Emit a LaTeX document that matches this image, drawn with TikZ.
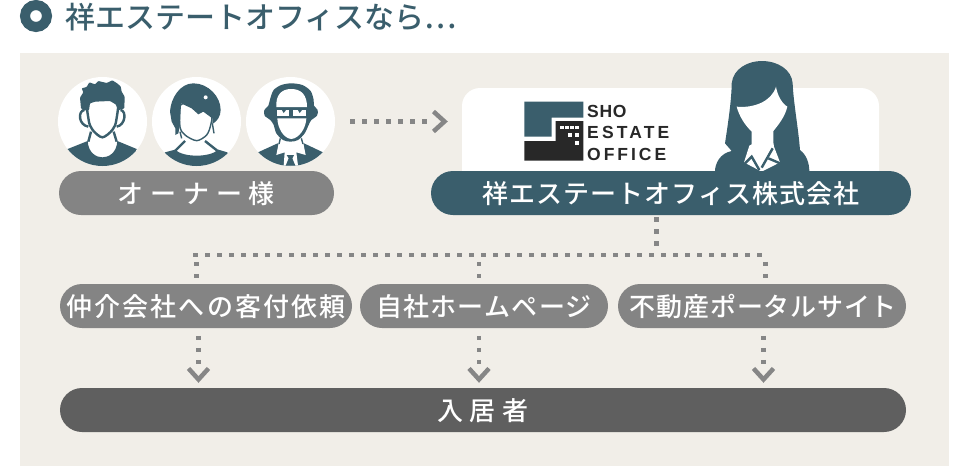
\documentclass[tikz,border=0pt]{standalone}
\usepackage{fontspec}
\usetikzlibrary{arrows.meta, shapes.misc}
\newfontfamily\jpfont{Noto Sans CJK JP Medium}
\newfontfamily\titlefont{Noto Sans CJK JP Medium}
\newfontfamily\logofont{Liberation Sans Bold}
\definecolor{shoteal}{HTML}{3A5E6C}
\definecolor{shopaper}{HTML}{F1EEE8}
\definecolor{pillgrey}{HTML}{848484}
\definecolor{pilldark}{HTML}{5F5F5F}
\definecolor{dotgrey}{HTML}{868686}
\definecolor{logoblack}{HTML}{282828}
\tikzset{
    pill/.style = {shape = rounded rectangle, minimum height = 44pt, inner sep = 0pt, text = white,
        text height = 23pt, text depth = 3pt, font = \jpfont\fontsize{26}{30}\selectfont},
    facecircle/.style = {shape = circle, fill = white, minimum size = 89pt, inner sep = 0pt},
    logotext/.style = {anchor = base west, inner sep = 0pt, text = logoblack, font = \logofont\fontsize{17.5}{20}\selectfont},
    dotline/.style = {draw = dotgrey, line width = 4.5pt, dash pattern = on 4.5pt off 7.5pt},
    dotdrop/.style = {dotline, dash pattern = on 4.5pt off 7.5pt on 4.5pt off 7.5pt on 4.5pt off 90pt,
        -{Straight Barb[length = 11pt, width = 20pt, line width = 4.5pt]}},
    dotlong/.style = {dotline, dash pattern = on 4.5pt off 7.5pt on 4.5pt off 7.5pt on 4.5pt off 7.5pt on 4.5pt off 7.5pt on 4.5pt off 7.5pt on 4.5pt off 7.5pt on 4.5pt off 90pt,
        -{Straight Barb[length = 11pt, width = 20pt, line width = 4.5pt]}},
    outline/.style = {draw = shoteal, line width = 2.4pt},
    thinline/.style = {draw = shoteal, line width = 1.4pt}
}
\begin{document}
\begin{tikzpicture}[x = 1pt, y = -1pt]
    \useasboundingbox (0,0) rectangle (958,466);
    \fill [shopaper] (20,53) rectangle (949,466);

    \node [shape = circle, draw = shoteal, fill = white, line width = 10pt, minimum size = 22pt, inner sep = 0pt] (bullet) at (36,16) {};
    \node [anchor = west, inner sep = 0pt, text = shoteal, text height = 27pt, text depth = 3pt, font = \titlefont\fontsize{30}{34}\selectfont] (title) at (65,16) {祥エステートオフィスなら⋯};

    \node [facecircle] (owner1) at (102.5,121.5) {};
    \node [facecircle] (owner2) at (196.5,121.5) {};
    \node [facecircle] (owner3) at (290.5,121.5) {};

    \begin{scope}
        \clip (102.5,121.5) circle (44.5);
        \begin{scope}[shift = {(55,75)}, scale = 1/3]
            \fill [shoteal] (38,222) -- (98,198) .. controls (100,235) and (125,247) .. (142,247) .. controls (160,247) and (185,235) .. (187,198) -- (245,222) -- (250,290) -- (30,290) -- cycle;
            \draw [outline] (108,170) -- (100,200);
            \draw [outline] (176,170) -- (185,200);
            \draw [outline] (88,105) .. controls (68,108) and (70,150) .. (100,155);
            \draw [outline] (197,105) .. controls (215,108) and (212,150) .. (185,155);
            \filldraw [outline, fill = white] plot [smooth cycle] coordinates {(101,70) (101,135) (113,165) (142,187) (172,165) (184,135) (184,70)};
            \fill [shoteal, rounded corners = 0.7pt] (78,100) -- (75,68) -- (85,52) -- (80,40) -- (95,36) -- (103,22) -- (120,28) -- (130,18) -- (155,24) -- (172,16) -- (185,24) -- (197,34) -- (200,50) -- (209,65) -- (208,100) -- (190,106) -- (182,88) -- (165,78) -- (120,80) -- (105,85) -- (102,106) -- (85,106) -- cycle;
        \end{scope}
    \end{scope}

    \begin{scope}
        \clip (196.5,121.5) circle (44.5);
        \begin{scope}[shift = {(150,75)}, scale = 1/3]
            \fill [shoteal] (45,232) -- (75,224) .. controls (100,248) and (180,248) .. (205,224) -- (232,232) -- (250,290) -- (30,290) -- cycle;
            \draw [outline] (105,198) -- (75,228);
            \draw [outline] (165,198) -- (203,228);
            \filldraw [thinline, fill = white] plot [smooth cycle] coordinates {(92,90) (90,155) (105,180) (140,197) (170,180) (182,150) (182,120) (130,90)};
            \fill [shoteal] (60,110) .. controls (62,70) and (90,25) .. (130,25) .. controls (175,25) and (212,65) .. (212,105) .. controls (212,125) and (200,140) .. (187,147) -- (187,130) -- (160,110) -- (145,118) -- (125,100) -- (93,85) -- (90,150) -- (85,175) -- (76,180) -- (76,160) -- (65,140) -- cycle;
            \draw [thinline] (187,145) -- (192,175);
            \draw [thinline] (90,170) -- (95,190);
            \fill [white] (167,67) circle (6);
        \end{scope}
    \end{scope}

    \begin{scope}
        \clip (290.5,121.5) circle (44.5);
        \begin{scope}[shift = {(243,75)}, scale = 1/3]
            \fill [shoteal] (45,232) -- (104,205) -- (142,235) -- (183,205) -- (240,232) -- (260,290) -- (30,290) -- cycle;
            \fill [white] (108,200) -- (142,232) -- (180,200) -- (188,240) -- (160,232) -- (165,272) -- (122,272) -- (125,232) -- (100,240) -- cycle;
            \fill [shoteal] (131,240) -- (153,240) -- (148,250) -- (157,272) -- (128,272) -- (137,250) -- cycle;
            \draw [thinline] (112,190) -- (108,207);
            \draw [thinline] (175,190) -- (180,207);
            \fill [shoteal] plot [smooth cycle] coordinates {(82,70) (92,45) (115,30) (145,25) (178,30) (203,48) (212,75) (213,92) (224,105) (222,122) (205,135) (197,150) (185,175) (165,195) (142,200) (120,195) (100,175) (92,150) (82,135) (65,122) (64,105) (76,92)};
            \fill [white] (100,96) .. controls (98,60) and (115,42) .. (145,42) .. controls (175,42) and (192,60) .. (192,96) -- cycle;
            \fill [white] (103,130) -- (190,130) .. controls (189,160) and (168,190) .. (145,192) .. controls (122,190) and (104,160) .. (103,130) -- cycle;
            \fill [white] (103,104) rectangle (137,122);
            \fill [white] (150,104) rectangle (188,122);
            \fill [shoteal] (116,104) -- (130,104) -- (122,114) -- cycle;
            \fill [shoteal] (164,104) -- (178,104) -- (170,114) -- cycle;
        \end{scope}
    \end{scope}

    \node [pill, fill = pillgrey, minimum width = 275pt] (ownerpill) at (196.5,193) {\addfontfeature{LetterSpace=26}オーナー様\hspace{-7pt}};

    \node [shape = rectangle, fill = white, rounded corners = 18pt, minimum width = 417pt, minimum height = 102pt] (card) at (670.5,139) {};

    \begin{scope}[shift = {(515,95)}, scale = 1/3]
        \fill [shoteal] (28,20) -- (205,20) -- (205,68) -- (110,68) -- (110,125) -- (28,125) -- cycle;
        \fill [logoblack] (28,138) -- (122,138) -- (122,78) -- (205,78) -- (205,197) -- (28,197) -- cycle;
        \foreach \winx/\winy in {136/92, 150/92, 165/92, 180/92, 160/115, 180/115, 180/138}
            \fill [white] (\winx,\winy) rectangle +(11,11);
    \end{scope}
    \node [logotext] (logosho) at (587,117) {\addfontfeature{LetterSpace=4}SHO};
    \node [logotext] (logoestate) at (587,138.5) {\addfontfeature{LetterSpace=18}ESTATE};
    \node [logotext] (logooffice) at (587,160) {\addfontfeature{LetterSpace=17}OFFICE};

    \begin{scope}[shift = {(700,55)}, scale = 1/3]
        \fill [shoteal] (75,265) .. controls (85,200) and (95,130) .. (95,85) .. controls (100,40) and (145,18) .. (185,18) .. controls (235,18) and (275,45) .. (278,85) .. controls (280,140) and (295,220) .. (300,285) .. controls (320,300) and (328,325) .. (328,350) -- (45,350) .. controls (45,325) and (60,295) .. (95,288) -- cycle;
        \fill [white] (110,155) .. controls (160,160) and (215,140) .. (228,95) .. controls (232,120) and (245,145) .. (262,155) .. controls (255,185) and (235,210) .. (220,228) -- (220,262) -- (222,275) -- (240,322) -- (185,350) -- (132,322) -- (148,272) -- (155,268) -- (155,230) .. controls (135,210) and (118,185) .. (110,155) -- cycle;
        \draw [outline] (135,325) -- (155,305) -- (178,345);
        \draw [outline] (218,280) -- (185,338);
        \draw [outline] (205,310) -- (240,325);
    \end{scope}

    \node [pill, fill = shoteal, minimum width = 480pt] (company) at (671,193) {\addfontfeature{LetterSpace=4}祥エステートオフィス株式会社};

    \node [pill, fill = pillgrey, minimum width = 292pt] (broker) at (206,306) {\addfontfeature{LetterSpace=8}仲介会社への客付依頼};
    \node [pill, fill = pillgrey, minimum width = 248pt] (homepage) at (484,306) {\addfontfeature{LetterSpace=5}自社ホームページ\hspace{-2pt}};
    \node [pill, fill = pillgrey, minimum width = 288pt] (portal) at (762,306) {\hspace{3pt}\addfontfeature{LetterSpace=3}不動産ポータルサイト};
    \node [pill, fill = pilldark, minimum width = 846pt] (tenant) at (483,410) {\addfontfeature{LetterSpace=24}入居者\hspace{-3pt}};

    \coordinate (joint) at (656.5,255);
    \coordinate (busleft) at (193,255);
    \coordinate (busright) at (769,255);
    \coordinate (dropleft) at (196.5,255);
    \coordinate (dropmid) at (479,255);
    \coordinate (dropright) at (765.5,255);
    \coordinate (arrowleft) at (198.5,328);
    \coordinate (arrowmid) at (479,328);
    \coordinate (arrowright) at (763.5,328);

    \draw [dotlong, shorten <= 15pt, shorten >= 14pt] (owner3.east) -- (owner3 -| card.west);
    \draw [dotline, shorten <= 2pt, shorten >= 8pt] (company.south -| joint) -- (joint);
    \draw [dotline] (busleft) -- (busright);
    \draw [dotline, shorten <= 6.75pt] (dropleft) -- (dropleft |- broker.north);
    \draw [dotline, shorten <= 6.75pt] (dropmid) -- (dropmid |- homepage.north);
    \draw [dotline, shorten <= 6.75pt] (dropright) -- (dropright |- portal.north);
    \draw [dotdrop, shorten <= 7.75pt, shorten >= 5pt] (arrowleft) -- (arrowleft |- tenant.north);
    \draw [dotdrop, shorten <= 7.75pt, shorten >= 5pt] (arrowmid) -- (arrowmid |- tenant.north);
    \draw [dotdrop, shorten <= 7.75pt, shorten >= 5pt] (arrowright) -- (arrowright |- tenant.north);
\end{tikzpicture}
\end{document}
